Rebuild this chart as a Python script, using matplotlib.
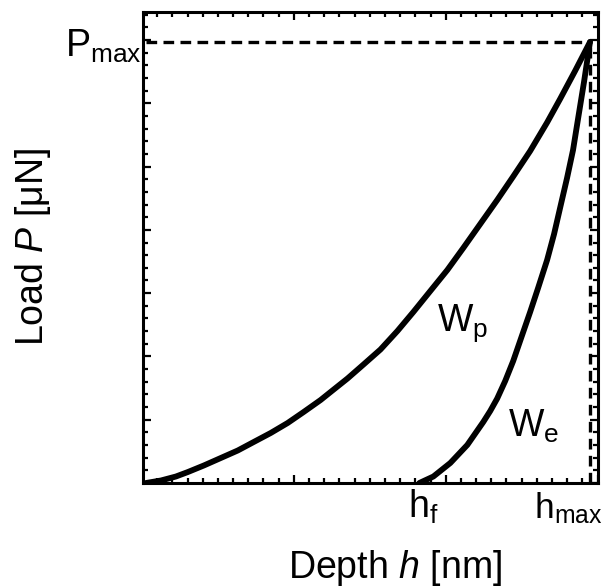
import matplotlib
matplotlib.use("Agg")
import matplotlib.pyplot as plt
from matplotlib.ticker import MultipleLocator

plt.rcParams["font.family"] = ["Liberation Sans", "DejaVu Sans"]
plt.rcParams["mathtext.fontset"] = "custom"
plt.rcParams["mathtext.rm"] = "Liberation Sans"
plt.rcParams["mathtext.it"] = "Liberation Sans:italic"
plt.rcParams["mathtext.default"] = "regular"

# depth and load as % of h_max / P_max
load_h = [0, 3.37, 6.74, 9.44, 13.03, 16.85, 20.67, 24.27, 28.09, 31.91, 35.51, 39.33,
          41.57, 45.39, 48.99, 52.81, 56.63, 60.22, 64.04, 67.87, 71.46, 75.28, 79.10,
          82.70, 86.52, 90.34, 93.26, 96.63, 100]
load_P = [0, 0.57, 1.47, 2.49, 3.97, 5.67, 7.37, 9.30, 11.34, 13.61, 16.10, 18.82,
          20.63, 23.70, 26.87, 30.27, 34.47, 38.78, 43.54, 48.30, 53.29, 58.73, 64.17,
          69.50, 75.28, 81.75, 87.07, 93.42, 100]

unload_h = [61.57, 64.72, 68.54, 72.36, 75.96, 77.53, 79.10, 80.90, 82.70, 84.49, 86.52,
            88.31, 90.34, 91.91, 93.26, 94.83, 96.18, 97.30, 98.65, 100]
unload_P = [0, 1.47, 4.54, 8.62, 13.83, 16.33, 19.16, 23.13, 27.66, 32.88, 38.78,
            44.22, 50.57, 56.46, 62.36, 69.16, 75.51, 82.54, 90.93, 100]

h_max = 100
P_max = 100

FS = 27

fig = plt.figure(figsize=(6.03, 5.87), dpi=100)
ax = fig.add_axes([143 / 603, 1 - 483 / 587, 455 / 603, 471 / 587])

for hh, pp in [(load_h, load_P), (unload_h, unload_P)]:
    ax.plot(hh, pp, color="black", lw=4.2, solid_capstyle="round",
            solid_joinstyle="round", zorder=3)

ax.plot([0, h_max], [P_max, P_max], color="black", lw=2.4, dashes=(3.2, 1.9))
ax.plot([h_max, h_max], [0, P_max], color="black", lw=2.4, dashes=(3.2, 1.9))

ax.set_xlim(-0.67, 101.8)
ax.set_ylim(0, 106.8)

ax.xaxis.set_major_locator(MultipleLocator(34.2, offset=33.3))
ax.xaxis.set_minor_locator(MultipleLocator(3.42, offset=2.52))
ax.yaxis.set_major_locator(MultipleLocator(14.35))
ax.yaxis.set_minor_locator(MultipleLocator(2.87))
ax.tick_params(which="both", direction="in", top=True, right=True,
               labelbottom=False, labelleft=False, width=1.6)
ax.tick_params(which="major", length=6)
ax.tick_params(which="minor", length=3.5)
for s in ax.spines.values():
    s.set_linewidth(2.2)

ax.text(-1.0, 96.6, "P$_{max}$", fontsize=FS, ha="right", va="baseline", clip_on=False)
ax.text(59.1, -7.9, "h$_{f}$", fontsize=FS, ha="left", va="baseline", clip_on=False)
ax.text(87.4, -7.9, "h$_{max}$", fontsize=25.5, ha="left", va="baseline", clip_on=False)
ax.text(65.6, 34.5, "W$_{p}$", fontsize=FS, ha="left", va="baseline")
ax.text(81.6, 10.4, "W$_{e}$", fontsize=FS, ha="left", va="baseline")

fig.text(395 / 603, 1 - 578 / 587, r"Depth $\mathit{h}$ [nm]", fontsize=FS,
         ha="center", va="baseline")
fig.text(33 / 603, 1 - 247 / 587, r"Load $\mathit{P}$ [μN]", fontsize=FS,
         ha="center", va="center", rotation=90)

fig.savefig("out.png", dpi=100)
